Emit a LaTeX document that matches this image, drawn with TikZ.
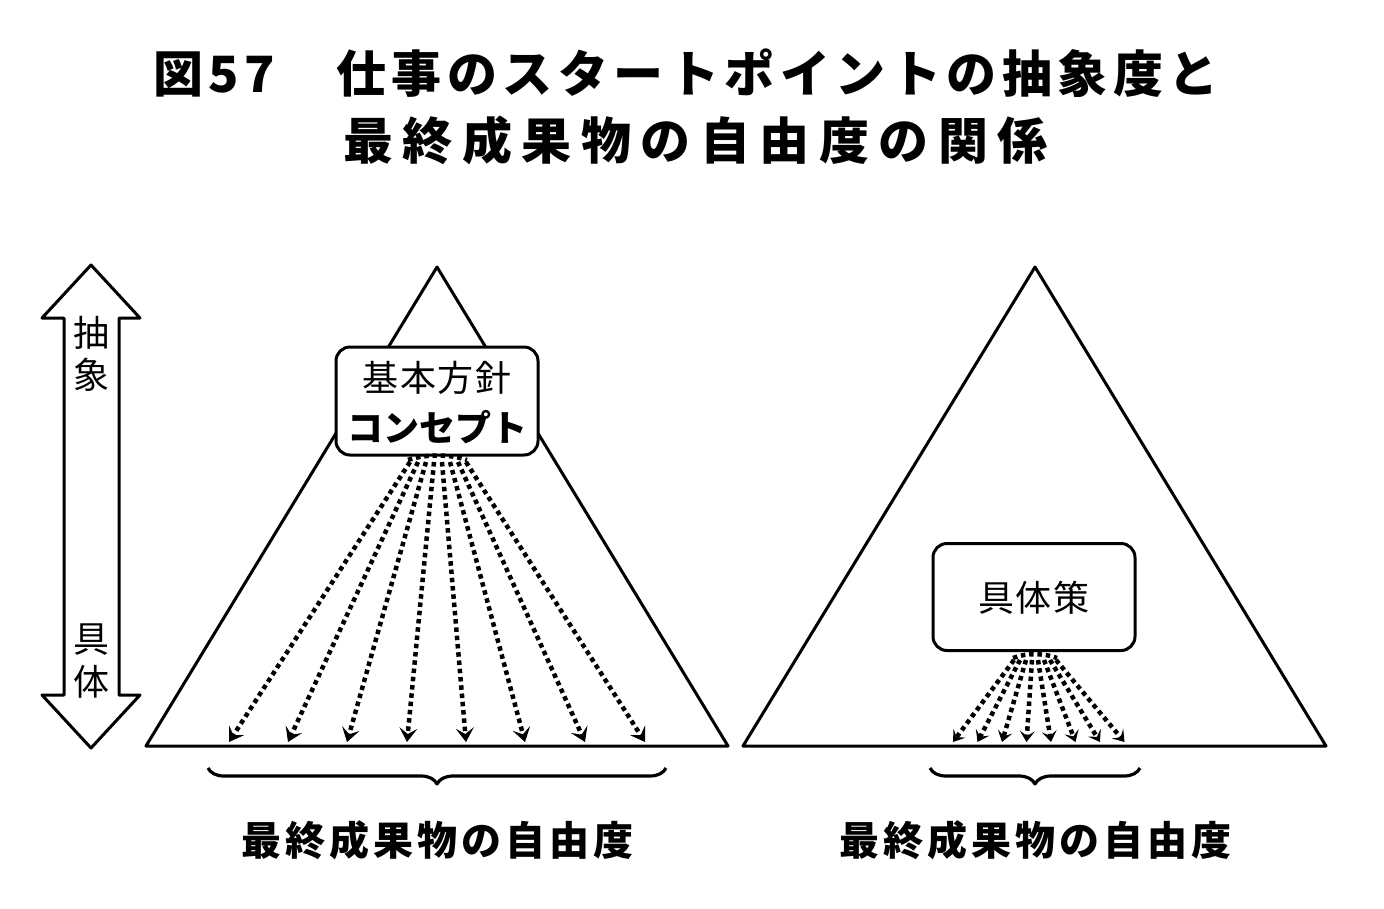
\documentclass[tikz,border=0pt]{standalone}
\usepackage{fontspec}
\setmainfont{Noto Sans CJK JP}
\usetikzlibrary{arrows.meta,decorations.pathreplacing}
\begin{document}
\begin{tikzpicture}[x=1pt,y=-1pt,line join=round,
  tri/.style={line width=3pt},
  box/.style={draw,line width=3pt,rounded corners=14pt,fill=white,inner sep=0pt},
  fan/.style={line width=4.5pt,dash pattern=on 4.5pt off 3.8pt,-{Stealth[length=14pt,width=18pt,inset=6pt,line width=1pt]}},
  brc/.style={line width=3.2pt,decorate,decoration={brace,mirror,amplitude=16pt,aspect=0.5}},
  lbl/.style={font=\fontsize{40}{40}\selectfont\bfseries\addfontfeatures{LetterSpace=10},inner sep=0pt},
  ttl/.style={inner sep=0pt,anchor=west}]
\useasboundingbox (0,0) rectangle (1384,908);
\node[ttl,font=\fontsize{50}{50}\selectfont\bfseries\addfontfeatures{LetterSpace=11}] (t1) at (153,73) {図57　仕事のスタートポイントの抽象度と};
\node[ttl,font=\fontsize{50}{50}\selectfont\bfseries\addfontfeatures{LetterSpace=19}] (t2) at (343,140) {最終成果物の自由度の関係};
% double arrow
\draw[line width=3pt] (91,265) -- (140,318) -- (119,318) -- (119,695) -- (140,695) -- (91,748) -- (42,695) -- (64,695) -- (64,318) -- (42,318) -- cycle;
\node[font=\fontsize{36}{36}\selectfont,inner sep=0pt] (a1) at (91,333) {抽};
\node[font=\fontsize{36}{36}\selectfont,inner sep=0pt] (a2) at (91,375) {象};
\node[font=\fontsize{36}{36}\selectfont,inner sep=0pt] (g1) at (91,640) {具};
\node[font=\fontsize{36}{36}\selectfont,inner sep=0pt] (g2) at (91,682) {体};
% left triangle
\draw[tri] (437,267) -- (728,746) -- (146,746) -- cycle;
\node[box,minimum width=202pt,minimum height=108pt] (b1) at (437,401) {};
\node[font=\fontsize{36}{36}\selectfont\addfontfeatures{LetterSpace=4},inner sep=0pt] (b1a) at (437,378) {基本方針};
\node[font=\fontsize{36}{36}\selectfont\bfseries,inner sep=0pt] (b1b) at (437,427) {コンセプト};
\foreach \i/\ex in {0/229,1/288,2/347,3/407,4/466,5/525,6/585,7/645}{
  \pgfmathsetmacro\sx{410+\i*8}
  \coordinate (ls\i) at (\sx,462);
  \coordinate (le\i) at (\ex,742);
  \draw[fan] (ls\i) -- (le\i);
}
\draw[line width=4.5pt,dash pattern=on 4.5pt off 3.8pt] (408,460) .. controls (425,454) and (450,454) .. (467,460);
% right triangle
\draw[tri] (1035,267) -- (1326,746) -- (743,746) -- cycle;
\node[box,minimum width=202pt,minimum height=107pt] (b2) at (1034,597) {};
\node[font=\fontsize{36}{36}\selectfont\addfontfeatures{LetterSpace=4},inner sep=0pt] (b2a) at (1034,598) {具体策};
\foreach \i in {0,...,7}{
  \pgfmathsetmacro\sx{1014+\i*6}
  \pgfmathsetmacro\ex{953+\i*24.5}
  \coordinate (rs\i) at (\sx,660);
  \coordinate (re\i) at (\ex,742);
  \draw[fan,-{Stealth[length=11pt,width=15pt,inset=5pt,line width=1pt]}] (rs\i) -- (re\i);
}
\draw[line width=4.5pt,dash pattern=on 4.5pt off 3.8pt] (1013,658) .. controls (1025,653) and (1045,653) .. (1057,658);
% braces
\coordinate (bl1) at (208,768); \coordinate (bl2) at (666,768);
\coordinate (br1) at (930,768); \coordinate (br2) at (1140,768);
\draw[brc] (bl1) -- (bl2);
\draw[brc] (br1) -- (br2);
\node[lbl] (l1) at (437,840) {最終成果物の自由度};
\node[lbl] (l2) at (1035,840) {最終成果物の自由度};
\end{tikzpicture}
\end{document}
